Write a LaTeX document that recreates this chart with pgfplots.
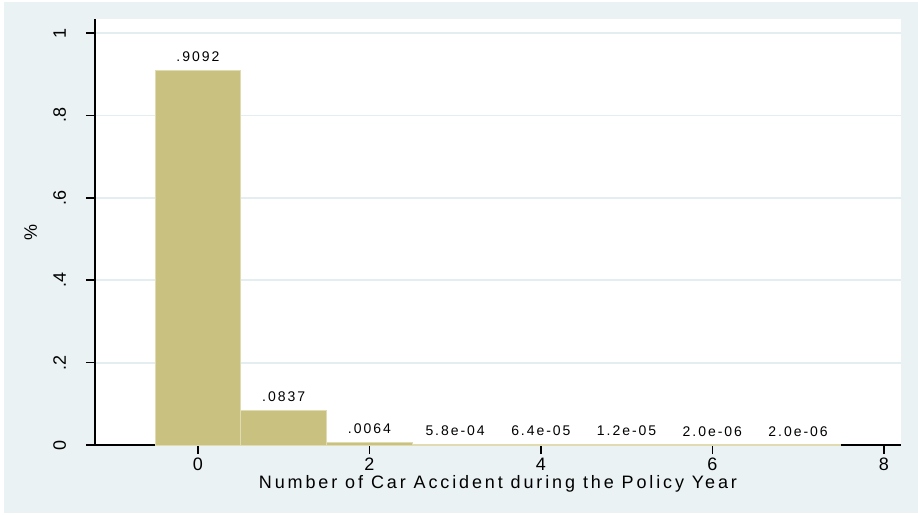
\documentclass[border=0pt]{standalone}
\usepackage{fontspec}
\setmainfont{Liberation Sans}
\newfontfamily\spaced[LetterSpace=16]{Liberation Sans}
\newfontfamily\spacedsmall[LetterSpace=14]{Liberation Sans}
\usepackage{pgfplots}
\pgfplotsset{compat=1.18}
\usepackage{pgfplotstable}

\definecolor{stbg}{RGB}{234,242,243}
\definecolor{stgrid}{RGB}{228,238,240}
\definecolor{stbar}{RGB}{200,193,128}
\definecolor{stedge}{RGB}{224,219,176}

% share of policies by number of accidents in the year
\pgfplotstableread{
x y lab
0 0.9092 .9092
1 0.0837 .0837
2 0.0064 .0064
3 0.00058 5.8e-04
4 0.000064 6.4e-05
5 0.000012 1.2e-05
6 0.000002 2.0e-06
7 0.000002 2.0e-06
}\accidents

\begin{document}
\begin{tikzpicture}
% page, graph region and plot region
\fill[white] (-95pt,-69pt) rectangle (823pt,445pt);
\fill[stbg] (-91pt,-68pt) rectangle (823pt,443pt);
\fill[white] (0pt,0pt) rectangle (806pt,426pt);
\begin{axis}[
  at={(0pt,0pt)}, anchor=south west,
  scale only axis, width=806pt, height=426pt,
  xmin=-1.2, xmax=8.2, ymin=0, ymax=1.034,
  axis lines=left,
  axis line style={-, line width=1.5pt, black},
  tick align=outside,
  major tick length=9pt,
  every tick/.style={black, line width=1.5pt},
  xtick={0,2,4,6,8},
  ytick={0,0.2,0.4,0.6,0.8,1},
  yticklabels={0,.2,.4,.6,.8,1},
  /pgf/number format/assume math mode=true,
  ticklabel style={font=\fontsize{18}{18}\selectfont},
  xticklabel style={anchor=north, inner sep=0pt, yshift=-4pt},
  yticklabel style={xshift=-20pt, rotate=90, anchor=base},
  ymajorgrids,
  major grid style={stgrid, line width=1.8pt},
  xlabel={Number of Car Accident during the Policy Year},
  xlabel style={font=\spaced\fontsize{18}{18}\selectfont, at={(axis description cs:0.5,0)}, anchor=base, inner sep=0pt, yshift=-43pt},
  ylabel={\%},
  ylabel style={font=\fontsize{18}{18}\selectfont, at={(axis description cs:-0.072,0.5)}, anchor=base, rotate=0},
  ybar, bar width=1, bar shift=0pt,
  nodes near coords,
  point meta=explicit symbolic,
  every node near coord/.append style={font=\spacedsmall\fontsize{14}{14}\selectfont, anchor=base, yshift=9pt, inner sep=0pt, black},
]
\addplot[fill=stbar, draw=stedge, line width=1pt] table[x=x, y=y, meta=lab] {\accidents};
\end{axis}
\end{tikzpicture}
\end{document}
